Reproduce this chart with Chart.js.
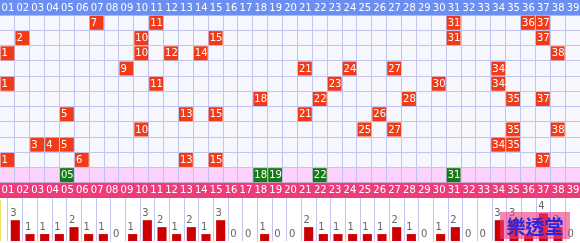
<!DOCTYPE html>
<html><head><meta charset="utf-8">
<script src="https://cdn.jsdelivr.net/npm/chart.js@4/dist/chart.umd.min.js"></script>
<style>
html,body{margin:0;padding:0;background:#fff;}
#wrap{position:relative;width:580px;height:243px;overflow:hidden;background:#fff;}
#c1{position:absolute;left:0;top:0;}
#c2{position:absolute;left:0;top:198px;}
#yl{position:absolute;left:0;top:200px;width:1px;height:41px;background:#eee46a;}
#logo{position:absolute;left:500px;top:212px;width:70px;height:27px;background:rgba(236,60,130,0.62);color:#2626e0;font:bold 19px "Noto Sans CJK TC";line-height:27px;text-align:center;letter-spacing:0px;}
</style></head>
<body>
<div id="wrap">
<canvas id="c1" width="580" height="198"></canvas>
<canvas id="c2" width="580" height="45"></canvas>
<div id="yl"></div>
<div id="logo">樂透堂</div>
</div>
<script>
// ---- data ----
const numberLabels = ['01','02','03','04','05','06','07','08','09','10','11','12','13','14','15','16','17','18','19','20','21','22','23','24','25','26','27','28','29','30','31','32','33','34','35','36','37','38','39'];
const draw1  = [7, 11, 31, 36, 37];
const draw2  = [2, 10, 15, 31, 37];
const draw3  = [1, 10, 12, 14, 38];
const draw4  = [9, 21, 24, 27, 34];
const draw5  = [1, 11, 23, 30, 34];
const draw6  = [18, 22, 28, 35, 37];
const draw7  = [5, 13, 15, 21, 26];
const draw8  = [10, 25, 27, 35, 38];
const draw9  = [3, 4, 5, 34, 35];
const draw10 = [1, 6, 13, 15, 37];
const nextDraw = [5, 18, 19, 22, 31];
const counts = [3,1,1,1,2,1,1,0,1,3,2,1,2,1,3,0,0,1,0,0,2,1,1,1,1,1,2,1,0,1,2,0,0,3,3,1,4,2,0];

const draws = [draw1, draw2, draw3, draw4, draw5, draw6, draw7, draw8, draw9, draw10];

// ---- styles ----
const FONT = '10px "DejaVu Sans"';
const RED = '#f03a18';
const GREEN = '#157a15';
const GRID = '#c3c3f0';
const HEAD_TOP = '#6a8ef2';
const HEAD_BOT = '#ee3c7a';
const PINK_ROW = '#fdd3fb';
const BG = '#f5f7fd';
const INSET = 0.04;

const nextRow = draws.length + 1;
const footRow = draws.length + 2;
const totalRows = draws.length + 3;

function rowData(nums, row, pad) {
  return numberLabels.map((lab, i) => nums.includes(i + 1) ? [row + INSET, row + 1 - INSET] : null);
}

const datasets = draws.map((d, r) => ({
  type: 'bar',
  data: rowData(d, r + 1),
  backgroundColor: RED,
  grouped: false,
  barPercentage: 0.93,
  categoryPercentage: 1,
  _cellKind: 'red'
}));
datasets.push({
  type: 'bar',
  data: rowData(nextDraw, nextRow),
  backgroundColor: GREEN,
  grouped: false,
  barPercentage: 0.93,
  categoryPercentage: 1,
  _cellKind: 'green'
});

const gridPlugin = {
  id: 'gridDecor',
  beforeDraw(chart) {
    const {ctx, chartArea: a, scales: {y}} = chart;
    ctx.save();
    ctx.fillStyle = BG;
    ctx.fillRect(a.left, a.top, a.width, a.height);
    const t = y.getPixelForValue(nextRow), b = y.getPixelForValue(nextRow + 1);
    ctx.fillStyle = PINK_ROW;
    ctx.fillRect(a.left, t, a.width, b - t);
    ctx.restore();
  },
  beforeDatasetsDraw(chart) {
    const {ctx, chartArea: a, scales: {x, y}} = chart;
    ctx.save();
    const bands = [[0, HEAD_TOP], [footRow, HEAD_BOT]];
    bands.forEach(([r, col]) => {
      const t = y.getPixelForValue(r), b = y.getPixelForValue(r + 1);
      ctx.fillStyle = col;
      ctx.fillRect(a.left, t, a.width, b - t);
      ctx.fillStyle = '#ffffff';
      ctx.font = FONT;
      ctx.textAlign = 'center';
      ctx.textBaseline = 'middle';
      numberLabels.forEach((lab, i) => {
        ctx.fillText(lab, x.getPixelForValue(i) + 0.5, (t + b) / 2 + 0.5);
      });
    });
    ctx.restore();
  },
  afterDatasetsDraw(chart) {
    const {ctx} = chart;
    ctx.save();
    ctx.fillStyle = '#ffffff';
    ctx.font = FONT;
    ctx.textAlign = 'left';
    ctx.textBaseline = 'middle';
    chart.data.datasets.forEach((ds, di) => {
      const meta = chart.getDatasetMeta(di);
      meta.data.forEach((el, i) => {
        if (!ds.data[i]) return;
        const txt = ds._cellKind === 'green' ? numberLabels[i] : String(i + 1);
        ctx.fillText(txt, el.x - el.width / 2 + 1, (el.y + el.base) / 2 + 0.5);
      });
    });
    ctx.restore();
  }
};

new Chart(document.getElementById('c1'), {
  type: 'bar',
  data: {labels: numberLabels, datasets},
  options: {
    responsive: false,
    animation: false,
    events: [],
    layout: {padding: 0},
    plugins: {legend: {display: false}, tooltip: {enabled: false}},
    scales: {
      x: {
        offset: true,
        grid: {offset: true, color: GRID, drawTicks: false},
        border: {display: false},
        ticks: {display: false}
      },
      y: {
        reverse: true, min: 0, max: totalRows,
        grid: {color: GRID, drawTicks: false},
        border: {display: false},
        ticks: {display: false, stepSize: 1}
      }
    }
  },
  plugins: [gridPlugin]
});

const labelPlugin = {
  id: 'countLabels',
  afterDatasetsDraw(chart) {
    const {ctx} = chart;
    const meta = chart.getDatasetMeta(0);
    ctx.save();
    ctx.fillStyle = '#666666';
    ctx.font = FONT;
    ctx.textAlign = 'left';
    ctx.textBaseline = 'bottom';
    meta.data.forEach((el, i) => {
      ctx.fillText(String(counts[i]), el.x - el.width / 2 - 0.5, el.y - 2);
    });
    ctx.restore();
  }
};

new Chart(document.getElementById('c2'), {
  type: 'bar',
  data: {labels: numberLabels, datasets: [{
    data: counts,
    backgroundColor: '#cc0000',
    barPercentage: 0.62,
    categoryPercentage: 1
  }]},
  options: {
    responsive: false,
    animation: false,
    events: [],
    layout: {padding: {top: 0, bottom: 2, left: 0, right: 0}},
    plugins: {legend: {display: false}, tooltip: {enabled: false}},
    scales: {
      x: {
        offset: true,
        grid: {offset: true, color: GRID, drawTicks: false},
        border: {display: false},
        ticks: {display: false}
      },
      y: {
        min: 0, max: 6.2,
        grid: {display: false},
        border: {display: false},
        ticks: {display: false}
      }
    }
  },
  plugins: [labelPlugin]
});
</script>
</body></html>
